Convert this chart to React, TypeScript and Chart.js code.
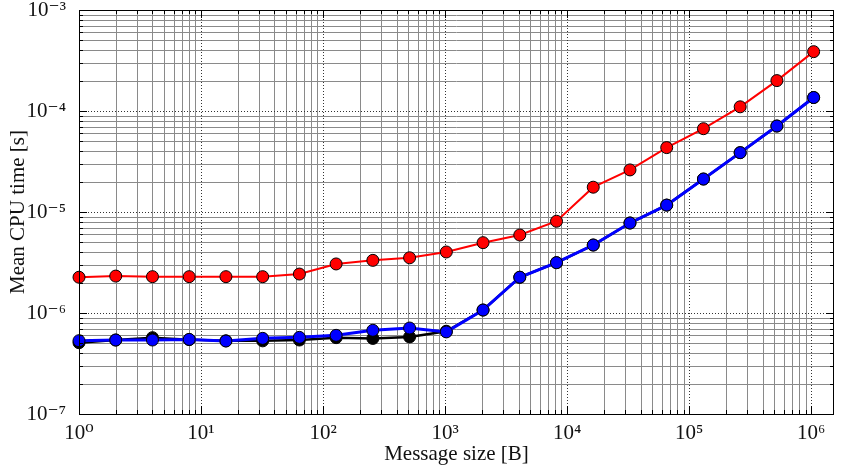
import { useEffect, useRef } from 'react';
import { Chart, registerables } from 'chart.js';

Chart.register(...registerables);

const messageSizes = [1, 2, 4, 8, 16, 32, 64, 128, 256, 512, 1024, 2048, 4096, 8192, 16384, 32768, 65536, 131072, 262144, 524288, 1048576];
const redTimes = [2.26e-6, 2.32e-6, 2.29e-6, 2.29e-6, 2.29e-6, 2.29e-6, 2.43e-6, 3.06e-6, 3.32e-6, 3.52e-6, 4.02e-6, 4.97e-6, 5.92e-6, 8.1e-6, 1.76e-5, 2.61e-5, 4.34e-5, 6.68e-5, 1.1e-4, 2.0e-4, 3.87e-4];
const blackTimes = [5.08e-7, 5.4e-7, 5.7e-7, 5.45e-7, 5.3e-7, 5.3e-7, 5.4e-7, 5.7e-7, 5.6e-7, 5.8e-7, 6.6e-7, 1.07e-6, 2.26e-6, 3.15e-6, 4.71e-6, 7.78e-6, 1.17e-5, 2.12e-5, 3.87e-5, 7.1e-5, 1.36e-4];
const blueTimes = [5.32e-7, 5.4e-7, 5.4e-7, 5.48e-7, 5.28e-7, 5.61e-7, 5.74e-7, 6.01e-7, 6.74e-7, 7.1e-7, 6.5e-7, 1.07e-6, 2.26e-6, 3.15e-6, 4.71e-6, 7.78e-6, 1.17e-5, 2.12e-5, 3.87e-5, 7.1e-5, 1.36e-4];
const xTickDecades = [1, 10, 100, 1000, 10000, 100000, 1000000];
const yTickDecades = [1e-7, 1e-6, 1e-5, 1e-4, 1e-3];

const X_MIN = 1;
const X_MAX = 1.54e6;
const Y_MIN = 1e-7;
const Y_MAX = 1e-3;

const SUP: Record<string, string> = { '0': '⁰', '1': '¹', '2': '²', '3': '³', '4': '⁴', '5': '⁵', '6': '⁶', '7': '⁷', '8': '⁸', '9': '⁹', '-': '⁻' };
const powLabel = (v: number) => {
  const e = Math.round(Math.log10(v));
  return '10' + String(e).split('').map((c) => SUP[c] || c).join('');
};

const SERIF = '"Liberation Serif", "DejaVu Serif", serif';

const mplPlugin = {
  id: 'mplGrid',
  beforeDatasetsDraw(chart: any) {
    const { ctx, chartArea, scales } = chart;
    const { left, right, top, bottom } = chartArea;
    const xs = scales.x;
    const ys = scales.y;
    ctx.save();
    ctx.lineWidth = 1;
    ctx.strokeStyle = '#8a8a8a';
    ctx.setLineDash([]);
    for (let d = -8; d <= 7; d++) {
      for (let m = 2; m <= 9; m++) {
        const v = m * Math.pow(10, d);
        if (v > X_MIN && v < X_MAX) {
          const px = Math.round(xs.getPixelForValue(v)) + 0.5;
          ctx.beginPath(); ctx.moveTo(px, top); ctx.lineTo(px, bottom); ctx.stroke();
        }
        if (v > Y_MIN && v < Y_MAX) {
          const py = Math.round(ys.getPixelForValue(v)) + 0.5;
          ctx.beginPath(); ctx.moveTo(left, py); ctx.lineTo(right, py); ctx.stroke();
        }
      }
    }
    ctx.strokeStyle = '#333333';
    ctx.setLineDash([1, 2]);
    xTickDecades.forEach((v) => {
      const px = Math.round(xs.getPixelForValue(v)) + 0.5;
      ctx.beginPath(); ctx.moveTo(px, top); ctx.lineTo(px, bottom); ctx.stroke();
    });
    yTickDecades.forEach((v) => {
      const py = Math.round(ys.getPixelForValue(v)) + 0.5;
      ctx.beginPath(); ctx.moveTo(left, py); ctx.lineTo(right, py); ctx.stroke();
    });
    ctx.restore();
  },
  afterDatasetsDraw(chart: any) {
    const { ctx, chartArea, scales } = chart;
    const { left, right, top, bottom } = chartArea;
    const xs = scales.x;
    const ys = scales.y;
    ctx.save();
    ctx.setLineDash([]);
    ctx.strokeStyle = '#000';
    ctx.lineWidth = 1;
    const tick = (x1: number, y1: number, x2: number, y2: number) => {
      ctx.beginPath(); ctx.moveTo(x1, y1); ctx.lineTo(x2, y2); ctx.stroke();
    };
    for (let d = -8; d <= 7; d++) {
      for (let m = 1; m <= 9; m++) {
        const v = m * Math.pow(10, d);
        const len = m === 1 ? 8 : 4;
        if (v >= X_MIN && v <= X_MAX) {
          const px = Math.round(xs.getPixelForValue(v)) + 0.5;
          tick(px, bottom, px, bottom - len);
          tick(px, top, px, top + len);
        }
        if (v >= Y_MIN && v <= Y_MAX) {
          const py = Math.round(ys.getPixelForValue(v)) + 0.5;
          tick(left, py, left + len, py);
          tick(right, py, right - len, py);
        }
      }
    }
    ctx.strokeRect(Math.round(left) + 0.5, Math.round(top) + 0.5, Math.round(right - left) - 1, Math.round(bottom - top));
    ctx.restore();
  },
};

export default function App() {
  const ref = useRef<HTMLCanvasElement | null>(null);
  useEffect(() => {
    if (!ref.current) return;
    const mk = (vals: number[]) => messageSizes.map((s, i) => ({ x: s, y: vals[i] }));
    const chart = new Chart(ref.current, {
      type: 'line',
      data: {
        datasets: [
          {
            label: 'Blue',
            data: mk(blueTimes),
            borderColor: '#0000ff',
            backgroundColor: '#0000ff',
            pointBackgroundColor: '#0000ff',
            pointBorderColor: '#000',
            pointBorderWidth: 1,
            pointRadius: 6,
            borderWidth: 3,
            clip: false as any,
          },
          {
            label: 'Black',
            data: mk(blackTimes),
            borderColor: '#000',
            backgroundColor: '#000',
            pointBackgroundColor: '#000',
            pointBorderColor: '#000',
            pointBorderWidth: 1,
            pointRadius: 6,
            borderWidth: 2.5,
            clip: false as any,
          },
          {
            label: 'Red',
            data: mk(redTimes),
            borderColor: '#ff0000',
            backgroundColor: '#ff0000',
            pointBackgroundColor: '#ff0000',
            pointBorderColor: '#000',
            pointBorderWidth: 1,
            pointRadius: 6,
            borderWidth: 2,
            clip: false as any,
          },
        ],
      },
      options: {
        responsive: false,
        animation: false,
        layout: { padding: { top: 10, right: 1, left: 0, bottom: 0 } },
        plugins: { legend: { display: false }, tooltip: { enabled: false } },
        scales: {
          x: {
            type: 'logarithmic',
            min: X_MIN,
            max: X_MAX,
            grid: { display: false },
            border: { display: false },
            afterBuildTicks: (s: any) => { s.ticks = xTickDecades.map((v) => ({ value: v })); },
            afterFit: (s: any) => { s.height = 55; s.paddingLeft = 0; s.paddingRight = 0; },
            ticks: {
              autoSkip: false,
              maxRotation: 0,
              padding: -1,
              color: '#111',
              font: { family: SERIF, size: 21 },
              callback: (v: any) => powLabel(Number(v)),
            },
            title: {
              display: true,
              text: 'Message size [B]',
              color: '#111',
              font: { family: SERIF, size: 21 },
              padding: { top: 0, bottom: 2 },
            },
          },
          y: {
            type: 'logarithmic',
            min: Y_MIN,
            max: Y_MAX,
            grid: { display: false },
            border: { display: false },
            afterBuildTicks: (s: any) => { s.ticks = yTickDecades.map((v) => ({ value: v })); },
            afterFit: (s: any) => { s.width = 79; s.paddingTop = 0; s.paddingBottom = 0; },
            ticks: {
              autoSkip: false,
              padding: 5,
              color: '#111',
              font: { family: SERIF, size: 21 },
              callback: (v: any) => powLabel(Number(v)),
            },
            title: {
              display: true,
              text: 'Mean CPU time [s]',
              color: '#111',
              font: { family: SERIF, size: 21 },
              padding: { top: 6, bottom: 0 },
            },
          },
        },
      },
      plugins: [mplPlugin],
    } as any);
    return () => chart.destroy();
  }, []);
  return (
    <div style={{ position: 'fixed', left: 0, top: 0, width: 841, height: 469, background: '#fff' }}>
      <canvas ref={ref} width={841} height={469} style={{ display: 'block', width: 841, height: 469 }} />
    </div>
  );
}
